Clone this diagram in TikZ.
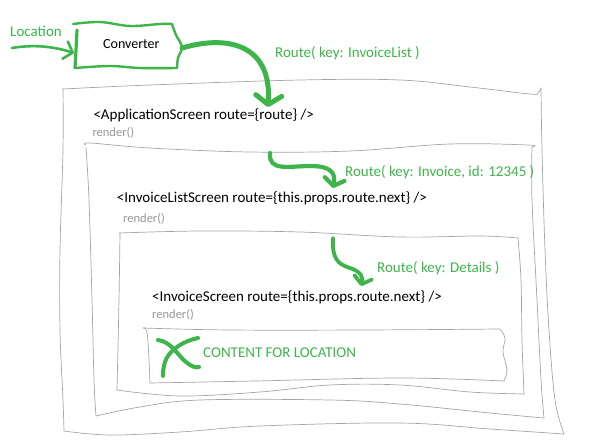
\documentclass[tikz,border=0pt]{standalone}
\usepackage{fontspec}
\setmainfont{Carlito}
\usetikzlibrary{arrows.meta}
\definecolor{lgreen}{RGB}{61,181,74}
\definecolor{framegray}{RGB}{165,165,165}
\definecolor{rendgray}{RGB}{150,150,150}
\tikzset{
  frameline/.style={draw=framegray, line width=0.7pt, line cap=round, line join=round},
  gline/.style={draw=lgreen, line cap=round, line join=round},
  code/.style={anchor=base west, font=\fontsize{15}{17}\selectfont, text=black, inner sep=0pt},
  convtext/.style={anchor=base west, font=\fontsize{14}{16}\selectfont, text=black, inner sep=0pt},
  rend/.style={anchor=base west, font=\fontsize{12.5}{14}\selectfont, text=rendgray, inner sep=0pt},
  glabel/.style={anchor=base west, font=\fontsize{15}{17}\selectfont, text=lgreen, inner sep=0pt},
}
\begin{document}
\begin{tikzpicture}[x=1pt,y=-1pt]
\useasboundingbox (0,0) rectangle (600,442);

% ---------- frames ----------
% frame 1 (ApplicationScreen)
\draw[frameline] plot[smooth,tension=0.6] coordinates {(63,89) (150,85) (300,80) (400,80) (470,87) (530,94) (538,93) (541,88)};
\draw[frameline] plot[smooth,tension=0.6] coordinates {(541,88) (542,150) (545,250) (549,330) (555,400) (564,434)};
\draw[frameline] plot[smooth,tension=0.6] coordinates {(64,431) (110,435) (180,432) (260,426) (400,423) (490,429) (564,434)};
\draw[frameline] plot[smooth,tension=0.6] coordinates {(63,88) (63,150) (60,250) (60,330) (63,400) (64,431)};
% frame 2 (InvoiceListScreen)
\draw[frameline] plot[smooth,tension=0.6] coordinates {(86,145) (90,143) (150,148) (250,152) (350,151) (450,144) (528,145) (532,147)};
\draw[frameline] plot[smooth,tension=0.6] coordinates {(532,147) (532,200) (537,300) (541,380) (544,418)};
\draw[frameline] plot[smooth,tension=0.6] coordinates {(96,416) (140,407) (200,400) (330,400) (400,404) (490,413) (544,418)};
\draw[frameline] plot[smooth,tension=0.6] coordinates {(86,147) (89,200) (92,300) (94,380) (96,416)};
% frame 3 (InvoiceScreen)
\draw[frameline] plot[smooth,tension=0.6] coordinates {(119,233) (200,231) (300,232) (400,237) (480,236) (518,238)};
\draw[frameline] plot[smooth,tension=0.6] coordinates {(518,238) (521,280) (522,340) (524,394)};
\draw[frameline] plot[smooth,tension=0.6] coordinates {(117,390) (180,396) (260,392) (330,385) (400,385) (470,392) (524,394)};
\draw[frameline] plot[smooth,tension=0.6] coordinates {(120,233) (119,300) (117,390)};
% frame 4 (content)
\draw[frameline] plot[smooth,tension=0.6] coordinates {(143,328) (230,330) (363,330) (500,329)};
\draw[frameline] plot[smooth,tension=0.6] coordinates {(500,329) (505,338) (503,352) (507,370) (504,381)};
\draw[frameline] plot[smooth,tension=0.6] coordinates {(150,383) (255,381) (400,378) (504,381)};
\draw[frameline] plot[smooth,tension=0.6] coordinates {(143,328) (147,332) (149,360) (150,383)};

% ---------- Converter box ----------
\draw[gline, line width=2.4pt] plot[smooth,tension=0.6] coordinates {(73,24) (100,22) (130,26) (160,24) (172,24)};
\draw[gline, line width=2.4pt] plot[smooth,tension=0.6] coordinates {(172,24) (176,35) (182,47) (178,58) (177,68)};
\draw[gline, line width=2.4pt] plot[smooth,tension=0.6] coordinates {(75,68) (110,66) (140,68) (177,68)};
\draw[gline, line width=3.2pt] plot[smooth,tension=0.6] coordinates {(77,30) (76,50) (75,68)};

% ---------- texts ----------
\node[glabel] (loc) at (10,36) {Location};
\node[convtext] (conv) at (103,48.3) {Converter};
\node[glabel] (r1) at (275,57.3) {Route( key: InvoiceList )};
\node[code] (app) at (93.3,119.5) {<ApplicationScreen route=\{route\} />};
\node[rend] (rd1) at (92.3,136) {render()};
\node[glabel] (r2) at (345,176.7) {Route( key: Invoice, id: 12345 )};
\node[code] (ils) at (116.7,202) {<InvoiceListScreen route=\{this.props.route.next\} />};
\node[rend] (rd2) at (123,222) {render()};
\node[glabel] (r3) at (377,272) {Route( key: Details )};
\node[code] (ins) at (152,301.7) {<InvoiceScreen route=\{this.props.route.next\} />};
\node[rend] (rd3) at (152,318) {render()};
\node[glabel] (cont) at (203,357.3) {CONTENT FOR LOCATION};

% ---------- arrows ----------
\coordinate (locstart) at (12,48);
\coordinate (convin) at (74,53);
\coordinate (convout) at (182,48);
\coordinate (appin) at (268,107);
\coordinate (a2start) at (270,153);
\coordinate (a2mid) at (310,166);
\coordinate (a2end) at (333,188);
\coordinate (a3start) at (333,238);
\coordinate (a3mid) at (350,268);
\coordinate (a3end) at (361,286);

\draw[gline, line width=2.6pt, -{Straight Barb[round,length=8pt,width=18pt]}]
  (locstart) .. controls (35,44) and (55,47) .. (convin);
\draw[gline, line width=5pt, -{Straight Barb[round,length=9pt,width=26pt]}]
  (convout) .. controls (230,34) and (272,46) .. (appin);
\draw[gline, line width=4.2pt, -{Straight Barb[round,length=7pt,width=20pt]}]
  (a2start) .. controls (268,172) and (290,166) .. (a2mid) .. controls (330,166) and (336,172) .. (a2end);
\draw[gline, line width=3.8pt, -{Straight Barb[round,length=7pt,width=18pt]}]
  (a3start) .. controls (332,258) and (337,264) .. (a3mid) .. controls (362,272) and (363,278) .. (a3end);

% ---------- X mark ----------
\draw[gline, line width=4pt] (158,340) .. controls (172,342) and (178,356) .. (186,362) .. controls (192,367) and (196,368) .. (199,367);
\draw[gline, line width=4pt] (198,338) .. controls (180,342) and (168,352) .. (165,362) .. controls (163,368) and (163,373) .. (163,376);
\end{tikzpicture}
\end{document}
